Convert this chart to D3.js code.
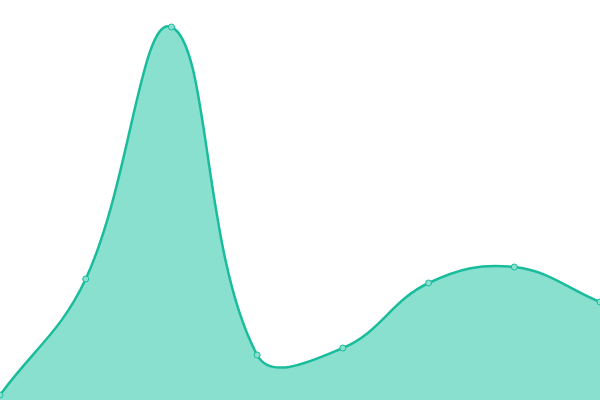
<!DOCTYPE html>
<html>
<head>
<meta charset="utf-8">
<script src="https://cdn.jsdelivr.net/npm/d3@7"></script>
<style>
  html, body { margin: 0; padding: 0; background: #fff; overflow: hidden; }
  svg { display: block; }
</style>
</head>
<body>
<div id="chart"></div>
<script>
var categories = ["Jan", "Feb", "Mar", "Apr", "May", "Jun", "Jul", "Aug"];
var values = [5, 121, 373, 45, 52, 117, 133, 98];
var yDomain = [0, 400];

var width = 600, height = 400;

// spline like the one chart.js draws (tension 0.4, distance weighted)
function SplineCurve(context) { this._context = context; this._tension = 0.4; }
SplineCurve.prototype = {
	areaStart: function() { this._line = 0; },
	areaEnd: function() { this._line = NaN; },
	lineStart: function() { this._xs = []; this._ys = []; },
	point: function(x, y) { this._xs.push(+x); this._ys.push(+y); },
	lineEnd: function() {
		var xs = this._xs, ys = this._ys, n = xs.length, t = this._tension, ctx = this._context;
		if (n) {
			this._line ? ctx.lineTo(xs[0], ys[0]) : ctx.moveTo(xs[0], ys[0]);
			var cps = [];
			for (var i = 0; i < n; i++) {
				var p = i > 0 ? i - 1 : i, q = i < n - 1 ? i + 1 : i;
				var d01 = Math.hypot(xs[i] - xs[p], ys[i] - ys[p]);
				var d12 = Math.hypot(xs[q] - xs[i], ys[q] - ys[i]);
				var s01 = d01 / (d01 + d12 || 1), s12 = d12 / (d01 + d12 || 1);
				var fa = t * s01, fb = t * s12;
				cps.push({
					px: xs[i] - fa * (xs[q] - xs[p]), py: ys[i] - fa * (ys[q] - ys[p]),
					nx: xs[i] + fb * (xs[q] - xs[p]), ny: ys[i] + fb * (ys[q] - ys[p])
				});
			}
			for (var j = 1; j < n; j++) {
				ctx.bezierCurveTo(cps[j - 1].nx, cps[j - 1].ny, cps[j].px, cps[j].py, xs[j], ys[j]);
			}
		}
		if (this._line || (this._line !== 0 && n === 1)) ctx.closePath();
		this._line = 1 - this._line;
	}
};
function curveSpline(context) { return new SplineCurve(context); }

var x = d3.scalePoint().domain(categories).range([0, width]);
var y = d3.scaleLinear().domain(yDomain).range([height, 0]);

var data = categories.map(function(c, i) { return { c: c, v: values[i] }; });

var svg = d3.select("#chart")
			.append("svg")
			.attr("width", width)
			.attr("height", height);

var area = d3.area()
	.x(function(d) { return x(d.c); })
	.y0(height)
	.y1(function(d) { return y(d.v); })
	.curve(curveSpline);

var line = d3.line()
	.x(function(d) { return x(d.c); })
	.y(function(d) { return y(d.v); })
	.curve(curveSpline);

svg.append("path")
	.datum(data)
	.attr("d", area)
	.attr("fill", "#89e0cf");

svg.append("path")
	.datum(data)
	.attr("d", line)
	.attr("fill", "none")
	.attr("stroke", "#1abc9c")
	.attr("stroke-width", 2.5);

svg.selectAll("circle")
	.data(data)
	.enter()
	.append("circle")
	.attr("cx", function(d) { return x(d.c); })
	.attr("cy", function(d) { return y(d.v); })
	.attr("r", 3)
	.attr("fill", "#89e0cf")
	.attr("stroke", "#1abc9c")
	.attr("stroke-width", 1);
</script>
</body>
</html>
